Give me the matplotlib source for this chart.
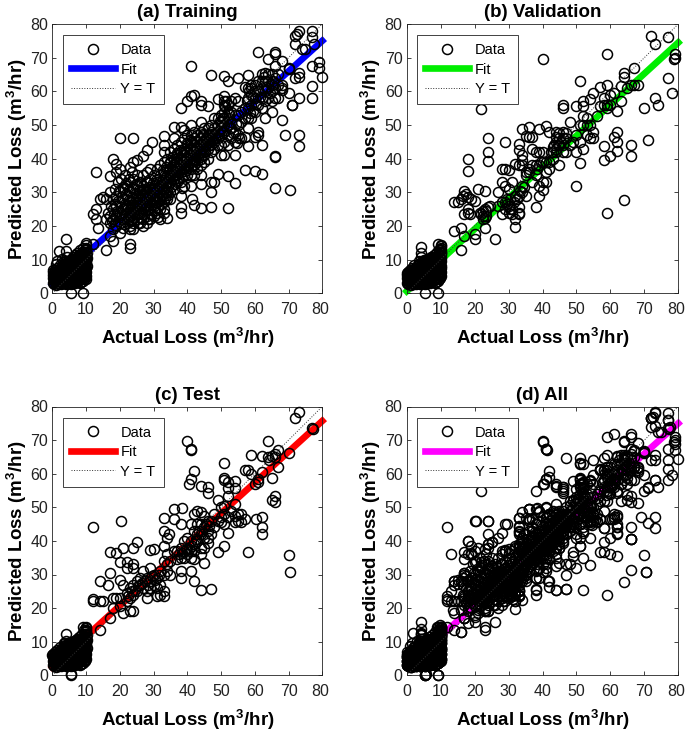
import numpy as np
import matplotlib
matplotlib.use('Agg')
import matplotlib.pyplot as plt
from matplotlib.transforms import ScaledTranslation

plt.rcParams['font.family'] = ['Liberation Sans', 'DejaVu Sans']
plt.rcParams['mathtext.fontset'] = 'custom'
plt.rcParams['mathtext.bf'] = 'Liberation Sans:bold'
plt.rcParams['mathtext.rm'] = 'Liberation Sans:bold'

# values as (actual, predicted)
low_common = [
    (0.2,3.2),(0.2,4.4),(0.2,5.3),(0.3,6.2),(0.6,2.9),(0.7,3.8),(0.7,4.9),(0.8,5.8),(0.9,6.9),(1.2,2.6),
    (1.3,3.5),(1.3,4.6),(1.4,5.5),(1.4,6.4),(1.5,7.6),(1.9,3.1),(1.9,4.1),(2.0,5.1),(2.1,6.1),(2.1,7.2),
    (2.2,8.3),(2.6,2.7),(2.6,3.7),(2.7,4.8),(2.8,5.7),(2.8,6.8),(2.9,8.0),(3.3,3.2),(3.3,4.2),(3.4,5.3),
    (3.5,6.3),(3.5,7.4),(3.6,8.6),(3.7,9.6),(4.0,2.9),(4.0,3.8),(4.1,4.9),(4.2,6.0),(4.2,7.1),(4.3,8.2),
    (4.4,9.3),(4.7,3.3),(4.8,4.4),(4.8,5.5),(4.9,6.6),(5.0,7.7),(5.0,8.9),(5.1,10.0),(5.4,2.8),(5.5,3.9),
    (5.5,5.0),(5.6,6.1),(5.7,7.2),(5.7,8.4),(5.8,9.5),(6.1,3.4),(6.2,4.5),(6.2,5.6),(6.3,6.7),(6.4,7.8),
    (6.4,9.0),(6.5,10.2),(6.8,3.0),(6.9,4.0),(6.9,5.1),(7.0,6.2),(7.1,7.3),(7.1,8.5),(7.2,9.7),(7.3,10.8),
    (7.6,3.6),(7.6,4.7),(7.7,5.8),(7.8,6.9),(7.8,8.1),(7.9,9.2),(8.0,10.4),(8.0,11.5),(8.3,3.2),(8.4,4.3),
    (8.4,5.4),(8.5,6.5),(8.6,7.6),(8.6,8.8),(8.7,9.9),(8.8,11.1),(8.8,12.2),(9.1,3.8),(9.2,4.9),(9.2,6.0),
    (9.3,7.1),(9.3,8.3),(9.4,9.4),(9.5,10.6),(9.5,11.7),(9.6,12.9),(9.7,4.4),(9.7,5.5),(9.8,6.6),(9.8,7.8),
    (9.9,8.9),(9.9,10.1),(10.0,11.3),(10.0,12.4),(10.0,13.6),(10.1,14.3),(10.1,5.0),(10.1,6.2),(10.1,7.4),(10.1,9.6),
    (0.4,3.8),(0.5,4.9),(0.5,5.9),(1.0,3.1),(1.0,4.1),(1.1,5.1),(1.1,6.0),(1.7,2.9),(1.6,3.8),(1.6,4.9),
    (1.7,5.8),(1.8,6.8),(2.3,3.4),(2.3,4.4),(2.4,5.4),(2.5,6.5),(2.5,7.6),(3.0,3.0),(3.0,4.0),(3.1,5.0),
    (3.1,6.0),(3.2,7.1),(3.2,8.2),(3.7,3.5),(3.8,4.5),(3.8,5.6),(3.9,6.7),(3.9,7.8),(4.0,9.0),(4.4,3.1),
    (4.5,4.1),(4.5,5.2),(4.6,6.3),(4.6,7.4),(4.7,8.5),(4.8,9.7),(5.1,3.5),(5.2,4.6),(5.2,5.8),(5.3,6.9),
    (5.3,8.0),(5.4,9.1),(5.8,3.1),(5.9,4.2),(5.9,5.3),(6.0,6.4),(6.0,7.5),(6.1,8.7),(6.2,9.8),(6.5,3.7),
    (6.6,4.8),(6.6,5.9),(6.7,7.0),(6.7,8.2),(6.8,9.3),(6.9,10.5),(7.2,3.3),(7.3,4.4),(7.3,5.5),(7.4,6.6),
    (7.4,7.8),(7.5,8.9),(7.6,10.1),(7.9,3.9),(8.0,5.0),(8.0,6.2),(8.1,7.3),(8.2,8.4),(8.2,9.6),(8.3,10.8),
    (8.6,3.5),(8.7,4.6),(8.8,5.7),(8.8,6.8),(8.9,8.0),(9.0,9.2),(9.0,10.3),(9.1,11.5),(9.4,4.2),(9.5,5.3),
    (9.5,6.4),(9.6,7.5),(9.6,8.7),(9.7,9.9),(9.8,11.0),(9.8,12.2),(9.9,13.3),(10.2,8.2),(10.2,10.6),(10.2,12.0),
]
train_low = [
    (2,12.7),(4.2,16),(4.2,12.5),(1.5,9.5),(5.5,0),(9.2,0),(3,10.2),(0.2,6.9),(6.6,11.4),(8.3,12.9),
    (9.2,13.5),(9.9,14.9),(3.2,9.2),(4.5,10.8),(6,10.9),(7.4,12),(10,4.3),(1.1,8.6),
]
train_outer = [
    (12,14.5),(16,12.8),(23,14.5),(23,13.5),(12,23.5),(13,25),(13,22),(13.5,19.5),(13,36),(14,28),
    (15,28.5),(16,28),(17,34.7),(17,30),(18,40),(19,38.5),(20,37),(19,36),(20,46),(24,46),
    (24,39),(25,39.7),(23,37.5),(27,40.8),(28,42.5),(29.5,45),(33,46.7),(33,44),(33,42),(36,49.5),
    (38,49.5),(39,48.5),(41,50),(44,51),(38,55),(40,57),(41,58.5),(42,59),(44,57),(44,56),
    (46,55.5),(49,57.8),(51,58.5),(51,57),(41,67.5),(47,64.8),(51,64.7),(52,63),(55,64),(58,64.8),
    (57,61.3),(58,61),(59,62),(61,71.7),(66,71.8),(66,71),(64,69.5),(66,67.5),(68,69),(70,66.5),
    (70,66.8),(62,65),(63,65.5),(64,65),(65,65),(67,65),(73,65.5),(72,64),(73,64.2),(72,74),
    (72,76.5),(73,78),(77,78),(77,76),(77.5,74),(74,72.5),(75,72.5),(77,67.5),(79,68.8),(79,67),
    (80,64.3),(77,61.5),(77,58),(73,58),(71,56),(71,55.8),(70,59.5),(68,60.5),(68,61),(65,53.8),
    (68,51.4),(69,47),(73,47),(73,43.8),(62,44),(60,46.5),(61,48),(61,47),(58,43.8),(58,49),
    (56,46),(57,46.5),(66,40.7),(66,40.5),(66,31.3),(70.5,30.6),(62,35.5),(60,36.2),(57,36.7),(54,32.7),
    (52,34.8),(52,25.4),(49,35.5),(48,33),(47,33.2),(47,30),(47,25.7),(44,25.4),(42,26.2),(41.5,28),
    (44,32.5),(41,32),(38,25.7),(38,24),(35,28),(34,22.3),(32,22),(33,25),(33,24),(27,20),
    (24,19),(23,19),(20,18),(18,15.5),(17,17),(16,22),(16.5,24),(17,21),(72.5,77),(65,62),
]
train_mid = [
    (17,23),(17.5,26),(18,19),(18,22),(18,25),(18,28),(18.5,31),(19,20),(19,23),(19,26),
    (19,29),(19.5,33),(20,21),(20,24),(20,27),(20,30),(20.5,34),(21,19.5),(21,22),(21,25),
    (21,28),(21,31),(21.5,35),(22,21),(22,24),(22,26),(22,29),(22,32),(23,20),(23,23),
    (23,25),(23,27),(23,30),(23,33),(23.5,36),(24,21),(24,24),(24,26),(24,28),(24,31),
    (24,34),(25,22),(25,25),(25,27),(25,29),(25,32),(25,35),(26,21),(26,24),(26,26),
    (26,28),(26,30),(26,33),(27,22),(27,25),(27,27),(27,29),(27,31),(27,35),(28,21),
    (28,23),(28,26),(28,28),(28,30),(28,33),(28,36),(29,22),(29,25),(29,27),(29,29),
    (29,31),(29,34),(29,37),(30,23),(30,26),(30,28),(30,30),(30,32),(30,35),(31,24),
    (31,27),(31,29),(31,31),(31,33),(31,37),(32,25),(32,28),(32,30),(32,32),(32,35),
    (32,38),(33,27),(33,29),(33,31),(33,33),(33,36),(33,39),(34,28),(34,30),(34,33),
    (34,35),(34,37),(34,40),(35,30),(35,33),(35,35),(35,37),(35,39),(35,42),(36,31),
    (36,34),(36,36),(36,38),(36,40),(36,43),(36,46),(37,33),(37,35),(37,37),(37,39),
    (37,41),(37,44),(38,29),(38,33),(38,36),(38,38),(38,40),(38,42),(38,45),(39,32),
    (39,35),(39,37),(39,39),(39,41),(39,43),(39,46),(40,35),(40,38),(40,40),(40,42),
    (40,44),(40,47),(41,35),(41,37),(41,39),(41,41),(41,43),(41,45),(41,47),(42,35),
    (42,38),(42,40),(42,42),(42,44),(42,46),(42,48),(43,37),(43,39),(43,41),(43,43),
    (43,45),(43,47),(44,35),(44,38),(44,40),(44,42),(44,44),(44,46),(44,48),(45,39),
    (45,41),(45,43),(45,45),(45,47),(45,49),(46,40),(46,43),(46,45),(46,47),(46,49),
    (47,42),(47,44),(47,46),(47,48),(47,50),(48,43),(48,45),(48,47),(48,49),(48,52),
    (49,44),(49,46),(49,48),(49,50),(49,52),(50,41),(50,44),(50,47),(50,49),(50,51),
    (50,53),(51,41),(51,45),(51,48),(51,50),(51,52),(51,54),(51,56),(52,44),(52,47),
    (52,50),(52,52),(52,54),(52,56),(53,46),(53,49),(53,51),(53,54),(53,57),(54,41),
    (54,45),(54,48),(54,53),(54,58),(55,47),(55,50),(55,53),(55,57),(56,51),(56,54),
    (57,52),(57,55),(58,52),(58,55),(58,58),(59,52),(59,56),(59,59),(60,54),(60,58),
    (60,60),(61,56),(61,60),(61,63),(62,55),(62,58),(62,61),(62,63),(63,52),(63,57),
    (63,60),(63,63),(64,58),(64,61),(64,63),(65,57),(65,60),(66,58),(66,61),(66,64),
    (67,58),(67,62),(68,62),(60,62),(59,61),
]
train_dense = [
    (17.6,21.5),(18.4,23.6),(18.6,26.5),(18.7,20.4),(19.3,24.4),(19.4,27.4),(19.6,21.6),(19.7,30.4),(20.3,22.6),(20.4,25.5),
    (20.6,28.6),(20.7,23.4),(20.8,31.5),(21.3,20.6),(21.4,23.5),(21.6,26.5),(21.7,29.6),(21.8,32.8),(22.3,22.5),(22.4,25.2),
    (22.6,27.6),(22.7,30.6),(22.8,34),(23.3,21.5),(23.4,24.2),(23.6,26.2),(23.7,28.6),(23.8,31.5),(24.3,22.5),(24.4,25.2),
    (24.6,27.2),(24.7,29.8),(24.8,32.6),(25.3,20.8),(25.4,23.6),(25.6,26.2),(25.7,28.4),(25.8,30.6),(26.3,22.5),(26.4,25.2),
    (26.6,27.2),(26.7,29.2),(26.8,31.8),(27.3,23.6),(27.4,26.2),(27.6,28.2),(27.7,30.2),(27.8,33.2),(28.3,22.2),(28.4,24.6),
    (28.6,27.2),(28.7,29.2),(28.8,31.6),(29.3,23.6),(29.4,26.2),(29.6,28.2),(29.7,30.2),(29.8,32.8),(30.3,24.6),(30.4,27.2),
    (30.6,29.2),(30.7,31.2),(30.8,33.6),(31.3,22.6),(31.4,25.6),(31.6,28.2),(31.7,30.2),(31.8,32.2),(32.3,26.6),(32.4,29.2),
    (32.6,31.2),(32.7,33.6),(32.8,36.6),(33.3,28.2),(33.4,30.2),(33.6,32.2),(33.7,34.6),(33.8,37.6),(34.3,29.2),(34.4,31.5),
    (34.6,34.2),(34.7,36.2),(34.8,38.6),(35.3,31.6),(35.4,34.2),(35.6,36.2),(35.7,38.2),(35.8,40.6),(36.3,32.6),(36.4,35.2),
    (36.6,37.2),(36.7,39.2),(36.8,41.6),(37.3,34.2),(37.4,36.2),(37.6,38.2),(37.7,40.2),(37.8,42.6),(38.3,31.2),(38.4,34.6),
    (38.6,37.2),(38.7,39.2),(38.8,41.2),(39.3,36.2),(39.4,38.2),(39.6,40.2),(39.7,42.2),(39.8,44.6),(40.3,37.2),(40.4,39.2),
    (40.6,41.2),(40.7,43.2),(40.8,45.6),(41.3,38.2),(41.4,40.2),(41.6,42.2),(41.7,44.2),(42.3,39.2),(42.4,41.2),(42.6,43.2),
    (42.7,45.2),(43.3,40.2),(43.4,42.2),(43.6,44.2),(43.7,46.2),(44.3,41.2),(44.4,43.2),(44.6,45.2),(44.7,47.2),(45.3,42.2),
    (45.4,44.2),(45.6,46.2),(46.3,44.2),(46.4,46.2),(47.3,45.2),(47.4,47.2),(48.3,46.2),(49.3,47.2),(49.6,51.2),(50.4,48.2),
    (50.6,52.2),(51.3,55.2),(51.6,57.2),(52.4,53.2),(52.6,49.2),(53.4,47.6),(54.4,50.2),(54.6,44.6),(55.4,46.2),(57.6,57.2),
    (58.4,60.2),(58.6,53.6),(59.4,58.2),(59.6,54.2),(60.4,56.2),(61.4,58.2),(62.6,64.2),(63.4,61.2),(64.4,59.6),(65.4,63.2),
]
val_pts = low_common + [
    (5.5,0),(9.2,0),(4.2,13.7),(4.2,12),(4.2,10.8),(9.2,14.5),(10,14),(10,13),(0,6),(0.3,2.7),
    (16,12.8),(14,18.5),(16,19.5),(17,17),(20,17.5),(20,16),(26,16),(23,19.5),(22.5,22),(21,31),
    (23,30.5),(20,27.5),(14,27),(15,27.2),(16,28),(16.5,29),(17,30.3),(17.5,29.5),(18,28.5),(19,28),
    (17,23.5),(18,24),(18,25),(18.5,23.5),(21.5,24),(22,23.5),(22.5,24.5),(23,25),(23.5,23),(24,25.5),
    (24.5,25.8),(27,30),(28,33),(29,32),(30,31),(27,26),(28,23.5),(28,27),(29,27),(29,25),
    (30,26),(30,24),(30.5,28),(31,33),(31,25),(31,23.5),(32,29),(32,22),(32,19.7),(33,25.5),
    (33,24),(33,23.5),(33,29),(34,30),(34,32),(35,35),(35,29),(36,37),(37,33),(38,35),
    (38,25.5),(39,29),(39,32),(40,30.7),(40,33),(41,33),(41,36),(42,37),(42,39),(43,40),
    (43,42),(44,42),(44,43),(44,45),(45,38),(45,44),(45,46),(46,42),(46,44),(47,42),
    (47,46),(48,44),(49,45),(50,42),(50,47),(51,45),(52,43),(53,47),(54,46),(55,46),
    (55,48),(52,50),(53,52),(51,50),(54,50),(58,56),(59,56),(30,36.5),(29,37),(28,37),
    (32,38.5),(33,38),(34,38),(34,39.5),(35,36),(36,36),(37,38),(38,38),(39,38),(40,39),
    (41,39),(33,42.7),(34,41),(37,43),(38,42),(39,42),(40,42),
    (22.5,23),(23,22.5),(23.5,24.5),(29.5,26.5),(30.5,25),(31.5,27),(29.5,28),(32.5,28),(33.5,30.5),(34.5,31.5),
    (43.5,44),(44.5,44),(45.5,45),(43,43.5),(42.5,42),(44,46.5),(45,47.5),(46,46),(38.5,37),(39.5,39),
    (72,76.5),(77,76),(73,74.2),(79,71),(79,70),(78.8,69.5),(59,71),(40,69.5),(67,66.8),(64,65.5),
    (64,64.3),(51,63),(59,62),(57,61.2),(55,59.5),(58,58),(54,57.8),(60,59),(61,59.5),(63,61.5),
    (65,61),(66,62),(67,62),(68,61.8),(77,64),(78,59.5),(73,58),(74,56),(70,55),(63,57),
    (62,54.2),(60,56),(52,57),(52,55.5),(50,55.5),(46,56),(46,55),(22,54.8),(59,55),(57,55.5),
    (56,52.8),(52,52.8),(53,50),(48,50.8),(41,49.8),(39,48.8),(36,49.5),(34,48.7),(42,47.8),(44,47.8),
    (46,48),(47,47.5),(37,46.5),(36,46.5),(35,46.7),(29,45),(33,44.5),(24,46),(24,42),(24,39.2),
    (18,40),(18,36.2),(71,45.4),(62,47.8),(61,46.5),(62,45),(58,43.7),(66,44),(62,42.3),(60,40.8),
    (58,39.7),(66,40.7),(50,32),(51,38.6),(59,23.8),(64,27.7),
]
test_pts = low_common + [
    (5.5,0),(5.6,0.3),(4.2,12.2),(4.2,10.3),(9,14.5),(10,14),(9.5,13.5),(0,6),(3.5,9.5),
    (73,78.3),(72,76.5),(77,73.5),(77.2,73.3),(70,66.2),(67,67),(66,66),(66,65),(64,69.7),(64,65),
    (65,65.2),(64.2,64),(62,65.3),(59,65.5),(51,63.2),(40,69.8),(41,67.3),(41.2,67),(42,60.7),(41,58.5),
    (40.5,57),(44,56.3),(46,56),(46,54.3),(51,58),(51,58.7),(52,57.5),(52,55.8),(54,57.8),(54,55.8),
    (57,61),(58,61.2),(59,60),(61,58.5),(60,56.8),(61,57.5),(62,60.5),(65,58.7),(67,62),(49,52.3),
    (52,53.5),(65,52.2),(66,53.5),(66,51.5),(36,49.5),(38.5,49.8),(12,44),(20.5,46),(33,46.7),(36,46.5),
    (38,45),(41,45),(43,49),(44,48.5),(42,48),(45,47.5),(46,46),(48,48),(50,50),(51,50.5),
    (54,51),(55,48),(54,47.5),(54,45.5),(55,46),(56,45.5),(57,46.5),(60.5,46.5),(62,47),(62,44),
    (62,42),(58,36.8),(70,35.8),(70.5,30.6),(49,36.8),(51,38.6),(52,42.5),(51,45),(50,45.5),(46,39.5),
    (46,41),(45,38),(45,33.5),(44,36),(44,25.4),(47,25.7),(42,28),(41,31),(38,31),(38,29),
    (33,42.8),(34,41),(34.5,42),(33,38.5),(30,37.5),(29,37.2),(25,39.7),(24,38),(21,38),(19,36.5),
    (17,36.8),(20,33.7),(22,33.7),(24,33),(22,32),(24,32),(17,30.3),(14,28),(16.5,27),(20,28.5),
    (21,27),(12,22.8),(12,22),(14,22),(15,22),(18,23),(19,23),(20,23),(17,17.2),(14,13.5),
    (21,18.5),(23,19),(24,19),(18,20),(20,20.5),(22,22),(22,24.5),(23,23),(23,26),(24,24),
    (24,27),(25,25),(25,28),(26,27),(26,29),(27,26),(27,31),(28,23),(28,25),(28,29),
    (29,26),(29,28),(29,32),(30,27),(30,30),(31,23.5),(31,26),(31,29),(32,24),(32,27),
    (32,31),(33,23.5),(33,25),(33,30),(33,34),(34,31),(34,33),(34,36),(35,30),(35,34),
    (36,37),(37,34.5),(37,37),(38,35),(38,38),(39,35),(39,37),(39,40),(40,36),(40,38),
    (40,41),(41,35),(41,37),(41,40),(42,34.5),(42,37),(42,39),(42,43),(43,40),(43,42),
    (43,45),(44,38),(44,42),(44,45),(45,41),(45,44),(46,43),(47,42),(47,46),(48,44),
    (49,46),(50,47),(51,48),(52,47),(53,49),(56,48),
    (22.5,23.5),(23.5,25),(24.5,25.5),(25.5,26.5),(26.5,27.5),(27.5,28),(28.5,27),(29.5,29.5),(30.5,28.5),(31.5,30),
    (37.5,36),(38.5,36.5),(39.5,37.5),(40.5,37.5),(41.5,38.5),(42.5,40.5),(43.5,43),(44.5,43),(45.5,45),(46.5,44.5),
]
train_pts = low_common + train_low + train_outer + train_mid + train_dense
all_pts = train_pts + val_pts + test_pts

titles = ['(a) Training', '(b) Validation', '(c) Test', '(d) All']
panel_pts = [train_pts, val_pts, test_pts, all_pts]
fit_colors = ['#0000ff', '#00ee00', '#ff0000', '#ff00ff']
fit_x = [0, 80]
fit_y = [[2.6, 75], [0.6, 74.5], [2.4, 75.7], [2.6, 75]]
ticks = [0, 10, 20, 30, 40, 50, 60, 70, 80]

fig = plt.figure(figsize=(6.85, 7.33), dpi=100)
W, H = 685.0, 733.0
boxes = [(52.3, 24, 322.3, 293.3), (406.7, 24, 678.3, 293.3),
         (52.3, 406.5, 322.3, 675.3), (406.7, 406.5, 678.3, 675.3)]

for i in range(4):
    l, t, r, b = boxes[i]
    ax = fig.add_axes([l / W, 1 - b / H, (r - l) / W, (b - t) / H])
    pts = np.array(panel_pts[i])
    ax.plot(fit_x, fit_y[i], color=fit_colors[i], lw=4.8, solid_capstyle='projecting',
            clip_on=False, zorder=2, label='Fit')
    ax.plot(pts[:, 0], pts[:, 1], 'o', mfc='none', mec='black', ms=7.2, mew=1.1,
            clip_on=False, zorder=3, label='Data')
    ax.plot([0, 80], [0, 80], color='#333333', ls=':', lw=0.7, zorder=4, label='Y = T')
    ax.set_xlim(0, 80)
    ax.set_ylim(0, 80)
    ax.set_xticks(ticks)
    ax.set_yticks(ticks)
    ax.tick_params(direction='in', top=True, right=True, length=2.6, width=0.6,
                   labelsize=11.5, colors='#222222')
    ax.tick_params(axis='x', pad=6)
    ax.tick_params(axis='y', pad=3)
    # last label sits a little left of its tick, it would run off the page otherwise
    last = ax.get_xticklabels()[-1]
    last.set_transform(last.get_transform() + ScaledTranslation(-2.5 / 100, 0, fig.dpi_scale_trans))
    for s in ax.spines.values():
        s.set_linewidth(0.6)
        s.set_color('#222222')
    ax.set_title(titles[i], fontsize=13.5, fontweight='bold', pad=5)
    ax.set_xlabel(r'Actual Loss (m$\mathbf{^3}$/hr)', fontsize=13.5, fontweight='bold', labelpad=7)
    ax.set_ylabel(r'Predicted Loss (m$\mathbf{^3}$/hr)', fontsize=13.5, fontweight='bold', labelpad=1)

    h, lab = ax.get_legend_handles_labels()
    leg = ax.legend([h[1], h[0], h[2]], [lab[1], lab[0], lab[2]], loc='upper left',
                    bbox_to_anchor=(10.5 / (r - l), 1 - 11 / (b - t)), borderaxespad=0,
                    fontsize=10.5, fancybox=False, framealpha=1, edgecolor='#222222',
                    handlelength=3.0, handletextpad=0.4, labelspacing=0.38, borderpad=0.55)
    leg.get_frame().set_linewidth(0.6)
    leg.set_zorder(10)

plt.savefig('out.png', dpi=100)
